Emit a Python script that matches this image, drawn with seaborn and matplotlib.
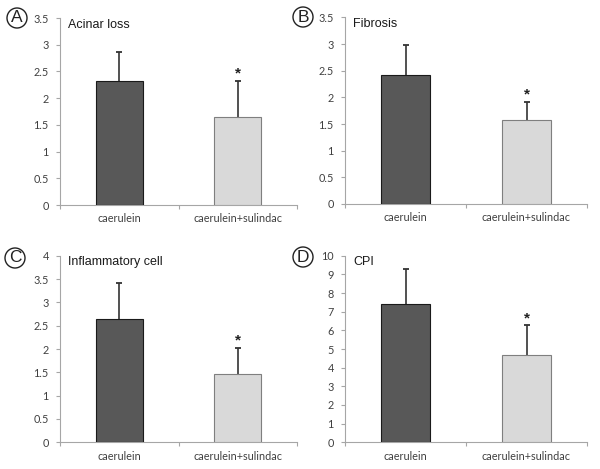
import matplotlib
matplotlib.use("Agg")
import matplotlib.pyplot as plt
from matplotlib.patches import Circle
import seaborn as sns
import pandas as pd
import numpy as np

categories = ["caerulein", "caerulein+sulindac"]
panel_letters = ["A", "B", "C", "D"]
panel_titles = ["Acinar loss", "Fibrosis", "Inflammatory cell", "CPI"]
means_a = [2.33, 1.65]
errs_a = [0.53, 0.68]
means_b = [2.43, 1.58]
errs_b = [0.55, 0.34]
means_c = [2.65, 1.46]
errs_c = [0.77, 0.57]
means_d = [7.42, 4.70]
errs_d = [1.85, 1.58]
yticks_ab = [0, 0.5, 1, 1.5, 2, 2.5, 3, 3.5]
yticks_c = [0, 0.5, 1, 1.5, 2, 2.5, 3, 3.5, 4]
yticks_d = [0, 1, 2, 3, 4, 5, 6, 7, 8, 9, 10]

sns.set_theme(style="white")
plt.rcParams['font.family'] = ['Liberation Sans', 'DejaVu Sans']

W, H = 600, 469
fig = plt.figure(figsize=(6.0, 4.69), dpi=100)

# axes rectangles in pixels: left, right, top, bottom
rects = [(60, 297, 18, 205), (345, 587, 17.5, 204),
         (60, 297, 255.7, 442.3), (345, 587, 255.7, 442.3)]
circles = [(17, 18), (303, 17), (15, 258), (303, 257)]
panels = [(means_a, errs_a, yticks_ab), (means_b, errs_b, yticks_ab),
          (means_c, errs_c, yticks_c), (means_d, errs_d, yticks_d)]

bar_colors = ["#585858", "#d9d9d9"]
edge_colors = ["#1a1a1a", "#7f7f7f"]
tick_col = "#404040"
spine_col = "#a6a6a6"
tick_font = ['Lato', 'DejaVu Sans']

def fmt(v):
    return ("%g" % v)

for i, ((l, r, t, b), (means, errs, yt)) in enumerate(zip(rects, panels)):
    ax = fig.add_axes([l / W, (H - b) / H, (r - l) / W, (b - t) / H])
    df = pd.DataFrame({"group": categories, "value": means})
    sns.barplot(data=df, x="group", y="value", hue="group", palette=bar_colors,
                width=0.4, errorbar=None, legend=False, ax=ax, zorder=3)
    for p, ec in zip(ax.patches, edge_colors):
        p.set_edgecolor(ec)
        p.set_linewidth(0.8)
    xs = np.arange(len(categories))
    tops = np.array(means) + np.array(errs)
    ax.errorbar(xs, means, yerr=[np.zeros(len(errs)), errs], fmt="none",
                ecolor="#333333", elinewidth=1.2, capsize=0, zorder=2)
    ax.scatter(xs, tops, marker="_", s=22, linewidths=1.3, color="#333333",
               zorder=2)
    ax.annotate("*", xy=(xs[1], tops[1]), xytext=(0, 0.0),
                textcoords="offset points", ha="center", va="bottom",
                fontsize=11, fontweight="bold", color="#222222")
    ax.set_xlim(-0.5, 1.5)
    ax.set_ylim(0, yt[-1])
    ax.set_yticks(yt)
    ax.set_yticklabels([fmt(v) for v in yt], fontsize=7.8, color=tick_col,
                       family=tick_font)
    ax.set_xticks(xs)
    ax.set_xticklabels(categories, fontsize=7.8, color=tick_col,
                       family=tick_font)
    ax.set_xticks([-0.5, 0.5, 1.5], minor=True)
    ax.tick_params(axis="x", which="major", length=0, pad=6)
    ax.tick_params(axis="x", which="minor", length=3, color=spine_col, width=0.8,
                   direction="out", bottom=True)
    ax.tick_params(axis="y", length=3, color=spine_col, width=0.8, direction="out",
                   left=True, pad=5)
    ax.set_xlabel("")
    ax.set_ylabel("")
    for s in ["top", "right"]:
        ax.spines[s].set_visible(False)
    for s in ["left", "bottom"]:
        ax.spines[s].set_color(spine_col)
        ax.spines[s].set_linewidth(0.8)
    ax.text(0.035, 0.965, panel_titles[i], transform=ax.transAxes, ha="left",
            va="center", fontsize=9, color="#1a1a1a")
    cx, cy = circles[i]
    fig.patches.append(Circle((cx / 100, (H - cy) / 100), radius=0.10,
                              transform=fig.dpi_scale_trans, fill=False,
                              edgecolor="#222222", linewidth=1.0))
    fig.text(cx / W, (H - cy) / H, panel_letters[i], ha="center", va="center",
             fontsize=12.5, color="#222222")

fig.savefig("out.png", dpi=100, facecolor="white")
